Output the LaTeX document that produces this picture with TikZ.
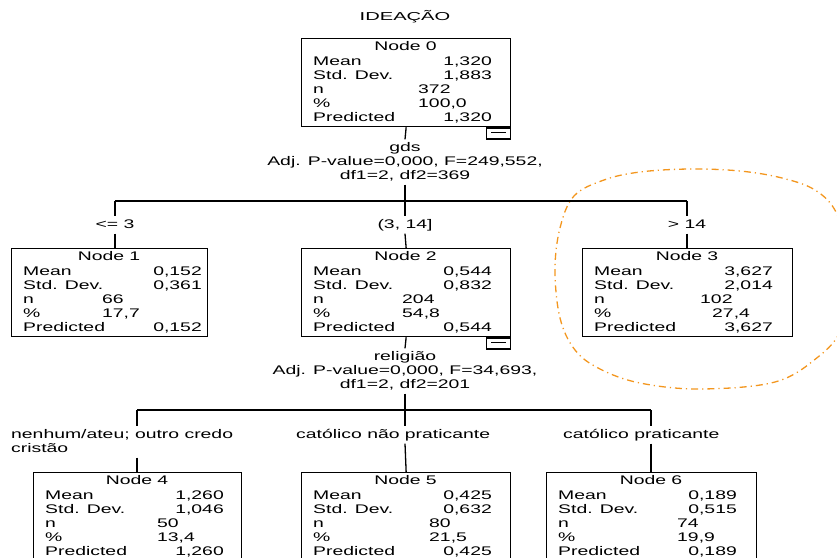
\documentclass[tikz,border=0pt]{standalone}
\usepackage{fontspec}
\setmainfont{Liberation Sans}[FakeStretch=1.55]
\newfontfamily\titlefont{Liberation Sans}[FakeStretch=1.75]
\definecolor{hlorange}{RGB}{243,150,30}
\tikzset{
  box/.style={draw, line width=1.3pt, inner sep=0pt, fill=white},
  cell/.style={inner sep=0pt, font=\fontsize{12.5}{14}\selectfont},
  lbl/.style={inner xsep=1pt, inner ysep=3pt, text height=9pt, text depth=2.5pt, font=\fontsize{12.5}{14}\selectfont},
  conn/.style={line width=1.3pt},
  hlmark/.style={draw=hlorange, line width=1.3pt, dash pattern=on 7pt off 4pt on 1.2pt off 4pt}
}
% #1 name, #2 width, #3 title, #4 mean, #5 sd, #6 n x, #7 n, #8 pct x, #9 pct
\newcommand{\statbox}[9]{%
  \node[box, minimum width=#2, minimum height=88, anchor=north west] (#1) at (0,0) {};
  \node[cell, anchor=base] (#1-t) at (#2/2,12) {#3};
  \node[cell, anchor=base west] (#1-a) at (12,27.5) {Mean};
  \node[cell, anchor=base east] (#1-av) at (191,27.5) {#4};
  \node[cell, anchor=base west] (#1-b) at (12,41.5) {Std. Dev.};
  \node[cell, anchor=base east] (#1-bv) at (191,41.5) {#5};
  \node[cell, anchor=base west] (#1-c) at (12,55.5) {n};
  \node[cell, anchor=base west] (#1-cv) at (#6,55.5) {#7};
  \node[cell, anchor=base west] (#1-d) at (12,69.5) {\%};
  \node[cell, anchor=base west] (#1-dv) at (#8,69.5) {#9};
  \node[cell, anchor=base west] (#1-e) at (12,83.5) {Predicted};
  \node[cell, anchor=base east] (#1-ev) at (191,83.5) {#4};
}
\newcommand{\minusbox}[2]{%
  \node[box, minimum width=24, minimum height=11, anchor=north east] (#1) at (#2.south east) {};
  \draw[line width=1.2pt] ([xshift=-7.5pt,yshift=1pt]#1.center) -- ([xshift=7.5pt,yshift=1pt]#1.center);
}
\begin{document}
\begin{tikzpicture}[x=1pt,y=-1pt]
\useasboundingbox (0,0) rectangle (837,557);

\node[inner sep=0pt, anchor=base, font=\titlefont\fontsize{11.5}{13}\selectfont] (title) at (405,20) {IDEAÇÃO};

% Orange highlight
\draw[hlmark] plot[smooth cycle, tension=0.6] coordinates {
  (555,270) (560,228) (574,196) (604,180) (640,172) (690,169) (740,171)
  (782,178) (815,190) (836,212) (846,250) (849,290) (841,330) (818,357)
  (775,382) (700,389) (640,383) (600,369) (575,350) (560,318)};

% Node 0
\begin{scope}[shift={(301,38)}]
  \statbox{n0}{209}{Node 0}{1,320}{1,883}{117}{372}{117}{100,0}
\end{scope}
\minusbox{m0}{n0}

\node[lbl, anchor=base] (s0a) at (405,151.5) {gds};
\node[lbl, anchor=base] (s0b) at (405,165) {Adj. P-value=0,000, F=249,552,};
\node[lbl, anchor=base] (s0c) at (405,179) {df1=2, df2=369};

\coordinate (j0) at (405,201);
\coordinate (j1) at (115,201);
\coordinate (j3) at (687,201);

\node[lbl, anchor=base] (l1) at (115,228) {<= 3};
\node[lbl, anchor=base] (l2) at (405,228) {(3, 14]};
\node[lbl, anchor=base] (l3) at (687,228) {> 14};

% Level 1
\begin{scope}[shift={(11,248)}]
  \statbox{n1}{196}{Node 1}{0,152}{0,361}{91}{66}{91}{17,7}
\end{scope}
\begin{scope}[shift={(301,248)}]
  \statbox{n2}{209}{Node 2}{0,544}{0,832}{101}{204}{101}{54,8}
\end{scope}
\minusbox{m2}{n2}
\begin{scope}[shift={(582,248)}]
  \statbox{n3}{210}{Node 3}{3,627}{2,014}{118}{102}{130}{27,4}
\end{scope}

\node[lbl, anchor=base] (s2a) at (405,360.5) {religião};
\node[lbl, anchor=base] (s2b) at (405,374) {Adj. P-value=0,000, F=34,693,};
\node[lbl, anchor=base] (s2c) at (405,388) {df1=2, df2=201};

\coordinate (k0) at (405,410);
\coordinate (k4) at (137,410);
\coordinate (k6) at (651,410);

\node[lbl, anchor=base west] (l4a) at (10,438) {nenhum/ateu; outro credo};
\node[lbl, anchor=base west] (l4b) at (10,452) {cristão};
\node[lbl, anchor=base west] (l5) at (295,438) {católico não praticante};
\node[lbl, anchor=base west] (l6) at (562,438) {católico praticante};

% Level 2
\begin{scope}[shift={(33,472)}]
  \statbox{n4}{208}{Node 4}{1,260}{1,046}{124}{50}{124}{13,4}
\end{scope}
\begin{scope}[shift={(301,472)}]
  \statbox{n5}{209}{Node 5}{0,425}{0,632}{128}{80}{128}{21,5}
\end{scope}
\begin{scope}[shift={(546,472)}]
  \statbox{n6}{210}{Node 6}{0,189}{0,515}{131}{74}{131}{19,9}
\end{scope}

% Connectors
\draw[conn] (n0.south) -- (s0a.north);
\draw[conn] (s0c.south) -- (j0);
\draw[conn] (j1) -- (j3);
\draw[conn] (j1) -- (l1.north);
\draw[conn] (l1.south) -- (l1.south |- n1.north);
\draw[conn] (j0) -- (l2.north);
\draw[conn] (l2.south) -- (n2.north);
\draw[conn] (j3) -- (l3.north);
\draw[conn] (l3.south) -- (l3.south |- n3.north);

\draw[conn] (n2.south) -- (s2a.north);
\draw[conn] (s2c.south) -- (k0);
\draw[conn] (k4) -- (k6);
\draw[conn] (k4) -- (k4 |- l4a.north);
\draw[conn] (k4 |- l4b.south) -- (k4 |- n4.north);
\draw[conn] (k0) -- (k0 |- l5.north);
\draw[conn] (k0 |- l5.south) -- (n5.north);
\draw[conn] (k6) -- (k6 |- l6.north);
\draw[conn] (k6 |- l6.south) -- (k6 |- n6.north);
\end{tikzpicture}
\end{document}
